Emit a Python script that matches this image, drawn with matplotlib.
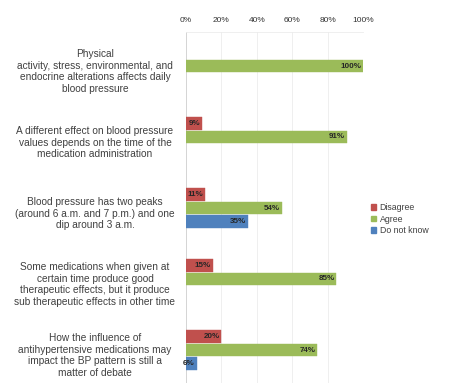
import matplotlib
matplotlib.use("Agg")
import matplotlib.pyplot as plt
from matplotlib.patches import Patch
import numpy as np

plt.rcParams['font.family'] = ['Liberation Sans', 'DejaVu Sans']

statements = [
    "Physical\nactivity, stress, environmental, and\nendocrine alterations affects daily\nblood pressure",
    "A different effect on blood pressure\nvalues depends on the time of the\nmedication administration",
    "Blood pressure has two peaks\n(around 6 a.m. and 7 p.m.) and one\ndip around 3 a.m.",
    "Some medications when given at\ncertain time produce good\ntherapeutic effects, but it produce\nsub therapeutic effects in other time",
    "How the influence of\nantihypertensive medications may\nimpact the BP pattern is still a\nmatter of debate",
]
disagree = [0, 9, 11, 15, 20]
agree = [100, 91, 54, 85, 74]
dont_know = [0, 0, 35, 0, 6]
series_names = ["Disagree", "Agree", "Do not know"]
tick_values = [0, 20, 40, 60, 80, 100]

colors = ["#C0504D", "#9BBB59", "#4F81BD"]
text_color = "#404040"

W, H = 455, 383
fig = plt.figure(figsize=(W / 100, H / 100), dpi=100)
x0, x1 = 186, 363
top, bottom = 32, 383
ax = fig.add_axes([x0 / W, 1 - bottom / H, (x1 - x0) / W, (bottom - top) / H])

pos = np.arange(len(statements))
bar_h = 0.18
offset = 0.19
series = [disagree, agree, dont_know]
for k, (vals, col) in enumerate(zip(series, colors)):
    ypos = pos + (k - 1) * offset
    keep = [i for i, v in enumerate(vals) if v > 0]
    ax.barh(ypos[keep], [vals[i] for i in keep], height=bar_h, color=col,
            edgecolor=col, linewidth=0.3, zorder=3)
    for i in keep:
        ax.text(vals[i] - 1, ypos[i], f"{vals[i]}%", ha='right', va='center',
                fontsize=5.8, fontweight='bold', color="#262626", zorder=4)

# y range chosen so group centres sit 71 px apart
span = (bottom - top) / 71.0
y_top = -(66 - top) / 71.0
ax.set_ylim(y_top + span, y_top)
ax.set_xlim(0, 100)

ax.xaxis.tick_top()
ax.set_xticks(tick_values)
ax.set_xticklabels([f"{t}%" for t in tick_values], fontsize=6, color="#333333")
ax.tick_params(axis='x', length=0, pad=6)
ax.set_yticks([])
ax.grid(axis='x', color="#ececec", linewidth=0.6, zorder=0)
for s in ['right', 'bottom']:
    ax.spines[s].set_visible(False)
ax.spines['top'].set_color("#ececec")
ax.spines['left'].set_color("#d0d0d0")
ax.spines['top'].set_linewidth(0.6)
ax.spines['left'].set_linewidth(0.6)

# statement labels, centred to the left of the plot
trans = matplotlib.transforms.blended_transform_factory(fig.transFigure, ax.transData)
for y, lab in zip(pos, statements):
    ax.text(95 / W, y + 0.08, lab, transform=trans, ha='center', va='center',
            multialignment='center', fontsize=7.3, color=text_color, linespacing=1.2)

handles = [Patch(facecolor=c, edgecolor=c) for c in colors]
fig.legend(handles, series_names, loc='upper left', bbox_to_anchor=(371 / W, 1 - 203 / H),
           frameon=False, fontsize=6.3, handlelength=0.6, handleheight=0.6,
           handletextpad=0.4, labelspacing=0.3, labelcolor=text_color,
           borderaxespad=0, borderpad=0)

fig.savefig("out.png", dpi=100)
